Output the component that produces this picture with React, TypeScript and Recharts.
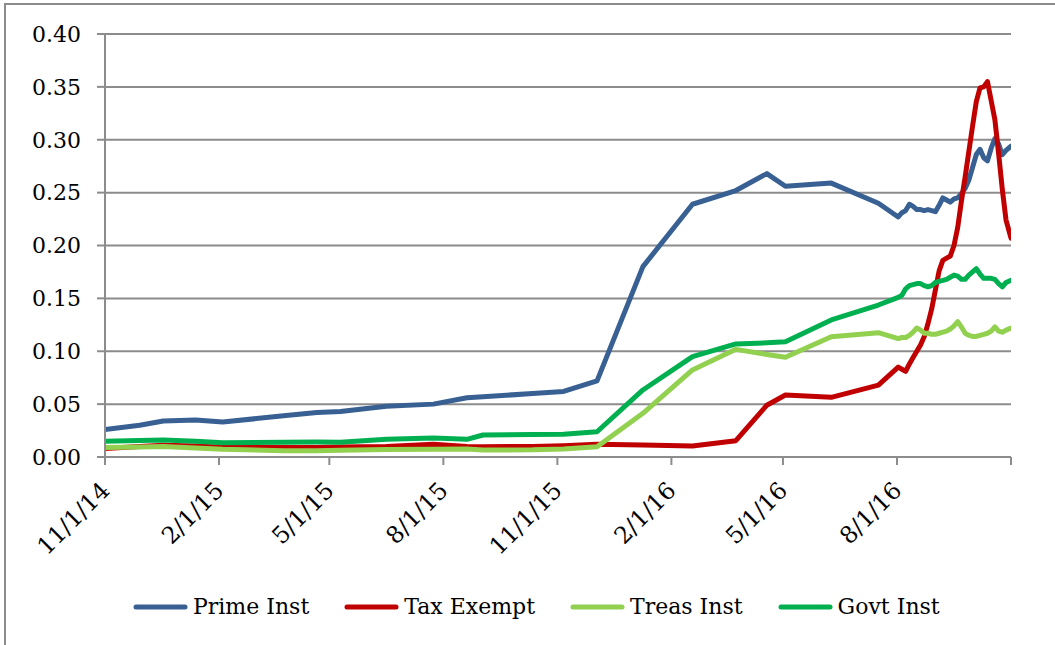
import React from 'react';
import { LineChart, Line, XAxis, YAxis, CartesianGrid, Legend } from 'recharts';

// Observation dates (M/D/YY)
const dates: string[] = [
  '11/1/14', '11/29/14', '12/18/14', '1/13/15', '2/4/15', '3/25/15', '4/21/15', '5/10/15',
  '6/16/15', '7/24/15', '8/20/15', '9/2/15', '10/12/15', '11/6/15', '12/3/15', '1/9/16',
  '2/18/16', '3/24/16', '4/18/16', '5/3/16', '6/9/16', '7/17/16',
  '8/2/16', '8/5/16', '8/8/16', '8/11/16', '8/14/16', '8/17/16', '8/20/16', '8/23/16',
  '8/26/16', '8/29/16', '9/1/16', '9/4/16', '9/7/16', '9/10/16', '9/13/16', '9/16/16',
  '9/19/16', '9/22/16', '9/25/16', '9/28/16', '10/1/16', '10/4/16', '10/7/16', '10/10/16',
  '10/13/16', '10/16/16', '10/19/16', '10/22/16', '10/25/16', '10/28/16', '11/1/16',
];

const primeInst: number[] = [
  0.026, 0.030, 0.034, 0.035, 0.033, 0.039, 0.042, 0.043, 0.048, 0.050, 0.056, 0.057, 0.060, 0.062, 0.072, 0.180,
  0.239, 0.252, 0.268, 0.256, 0.259, 0.240,
  0.227, 0.231, 0.233, 0.239, 0.237, 0.234, 0.234, 0.233, 0.234, 0.233, 0.232, 0.238, 0.245, 0.243, 0.241, 0.244,
  0.245, 0.249, 0.254, 0.262, 0.274, 0.286, 0.291, 0.283, 0.280, 0.292, 0.301, 0.296, 0.286, 0.290, 0.294,
];

const taxExempt: number[] = [
  0.008, 0.010, 0.011, 0.0105, 0.0092, 0.009, 0.009, 0.0095, 0.010, 0.012, 0.010, 0.0097, 0.010, 0.0107, 0.012, 0.0113,
  0.0105, 0.0154, 0.049, 0.0586, 0.0564, 0.068,
  0.085, 0.083, 0.081, 0.088, 0.094, 0.100, 0.106, 0.114, 0.126, 0.140, 0.158, 0.176, 0.186, 0.188, 0.190, 0.200,
  0.217, 0.242, 0.265, 0.289, 0.313, 0.336, 0.349, 0.350, 0.355, 0.337, 0.319, 0.287, 0.253, 0.224, 0.207,
];

const treasInst: number[] = [
  0.009, 0.0095, 0.010, 0.0085, 0.0073, 0.006, 0.006, 0.0065, 0.007, 0.0073, 0.0075, 0.0066, 0.0068, 0.0076, 0.0097, 0.0413,
  0.0823, 0.1018, 0.097, 0.0943, 0.1138, 0.1176,
  0.112, 0.113, 0.113, 0.115, 0.118, 0.122, 0.120, 0.117, 0.117, 0.116, 0.116, 0.117, 0.118, 0.119, 0.121, 0.124,
  0.128, 0.123, 0.117, 0.115, 0.114, 0.114, 0.115, 0.116, 0.117, 0.119, 0.123, 0.119, 0.118, 0.120, 0.122,
];

const govtInst: number[] = [
  0.015, 0.0155, 0.016, 0.015, 0.0135, 0.014, 0.0142, 0.014, 0.0167, 0.018, 0.0167, 0.0208, 0.0212, 0.0215, 0.0239, 0.0634,
  0.0949, 0.1069, 0.108, 0.109, 0.1296, 0.1437,
  0.151, 0.153, 0.159, 0.162, 0.163, 0.164, 0.164, 0.162, 0.161, 0.162, 0.165, 0.166, 0.167, 0.168, 0.170, 0.172,
  0.171, 0.168, 0.168, 0.172, 0.175, 0.178, 0.173, 0.169, 0.169, 0.169, 0.168, 0.164, 0.161, 0.165, 0.167,
];

const seriesNames: string[] = ['Prime Inst', 'Tax Exempt', 'Treas Inst', 'Govt Inst'];
const tickDates: string[] = ['11/1/14', '2/1/15', '5/1/15', '8/1/15', '11/1/15', '2/1/16', '5/1/16', '8/1/16', '11/1/16'];
const yTicks: number[] = [0, 0.05, 0.1, 0.15, 0.2, 0.25, 0.3, 0.35, 0.4];

const FONT = '"DejaVu Serif", serif';
const GRID = '#8c8c8c';

const toDay = (s: string): number => {
  const [m, d, y] = s.split('/').map(Number);
  return Math.round((Date.UTC(2000 + y, m - 1, d) - Date.UTC(2014, 10, 1)) / 86400000);
};

const rows = dates.map((d, i) => ({
  day: toDay(d),
  prime: primeInst[i],
  tax: taxExempt[i],
  treas: treasInst[i],
  govt: govtInst[i],
}));

const tickValues = tickDates.map(toDay);
const lastTick = tickValues[tickValues.length - 1];

const DateTick = (props: any) => {
  const { x, y, payload } = props;
  const idx = tickValues.indexOf(payload.value);
  if (idx < 0 || payload.value === lastTick) return null;
  const ax = x + 6;
  const ay = y + 25;
  return (
    <text
      x={ax}
      y={ay}
      transform={`rotate(-45, ${ax}, ${ay})`}
      textAnchor="end"
      fontFamily={FONT}
      fontSize={23.5}
      fill="#000"
    >
      {tickDates[idx]}
    </text>
  );
};

const renderLegend = (props: any) => {
  const items = [...(props.payload || [])].sort(
    (a: any, b: any) => seriesNames.indexOf(a.value) - seriesNames.indexOf(b.value),
  );
  return (
    <div style={{ display: 'flex', alignItems: 'center', fontFamily: FONT, fontSize: 22, color: '#000', height: 28 }}>
      {items.map((p: any, i: number) => (
        <div key={i} style={{ display: 'flex', alignItems: 'center', marginRight: 35 }}>
          <svg width={55} height={8} style={{ display: 'block' }}>
            <line x1={3} y1={4} x2={52} y2={4} stroke={p.color} strokeWidth={5} strokeLinecap="round" />
          </svg>
          <span style={{ marginLeft: 5, whiteSpace: 'nowrap', lineHeight: '28px' }}>{p.value}</span>
        </div>
      ))}
    </div>
  );
};

export default function App() {
  return (
    <div style={{ position: 'absolute', left: 0, top: 0, width: 1055, height: 645, overflow: 'hidden', background: '#fff' }}>
      <div
        style={{
          position: 'absolute',
          left: 4,
          top: 3,
          width: 1200,
          height: 800,
          borderLeft: `2px solid ${GRID}`,
          borderTop: `2px solid ${GRID}`,
        }}
      />
      <div style={{ position: 'absolute', left: 0, top: 0 }}>
        <LineChart width={1055} height={645} data={rows} margin={{ top: 34, right: 44, left: 0, bottom: 158 }}>
          <CartesianGrid vertical={false} stroke={GRID} strokeWidth={2} />
          <XAxis
            dataKey="day"
            type="number"
            domain={[0, 731]}
            ticks={tickValues}
            interval={0}
            height={30}
            tickSize={8}
            stroke={GRID}
            strokeWidth={2}
            tick={<DateTick />}
            allowDataOverflow
          />
          <YAxis
            type="number"
            domain={[0, 0.4]}
            ticks={yTicks}
            interval={0}
            width={105}
            tickSize={8}
            tickMargin={16}
            stroke={GRID}
            strokeWidth={2}
            tickFormatter={(v: number) => v.toFixed(2)}
            tick={{ fontFamily: FONT, fontSize: 22, fill: '#000' }}
            allowDataOverflow
          />
          <Legend
            layout="horizontal"
            verticalAlign="middle"
            align="center"
            itemSorter={null as any}
            content={renderLegend}
            wrapperStyle={{ position: 'absolute', left: 133, top: 593, width: 900, height: 28 }}
          />
          <Line type="linear" dataKey="prime" name={seriesNames[0]} stroke="#386092" strokeWidth={5} dot={false} strokeLinejoin="round" strokeLinecap="round" isAnimationActive={false} />
          <Line type="linear" dataKey="tax" name={seriesNames[1]} stroke="#C00000" strokeWidth={5} dot={false} strokeLinejoin="round" strokeLinecap="round" isAnimationActive={false} />
          <Line type="linear" dataKey="treas" name={seriesNames[2]} stroke="#92D050" strokeWidth={5} dot={false} strokeLinejoin="round" strokeLinecap="round" isAnimationActive={false} />
          <Line type="linear" dataKey="govt" name={seriesNames[3]} stroke="#00B050" strokeWidth={5} dot={false} strokeLinejoin="round" strokeLinecap="round" isAnimationActive={false} />
        </LineChart>
      </div>
    </div>
  );
}
